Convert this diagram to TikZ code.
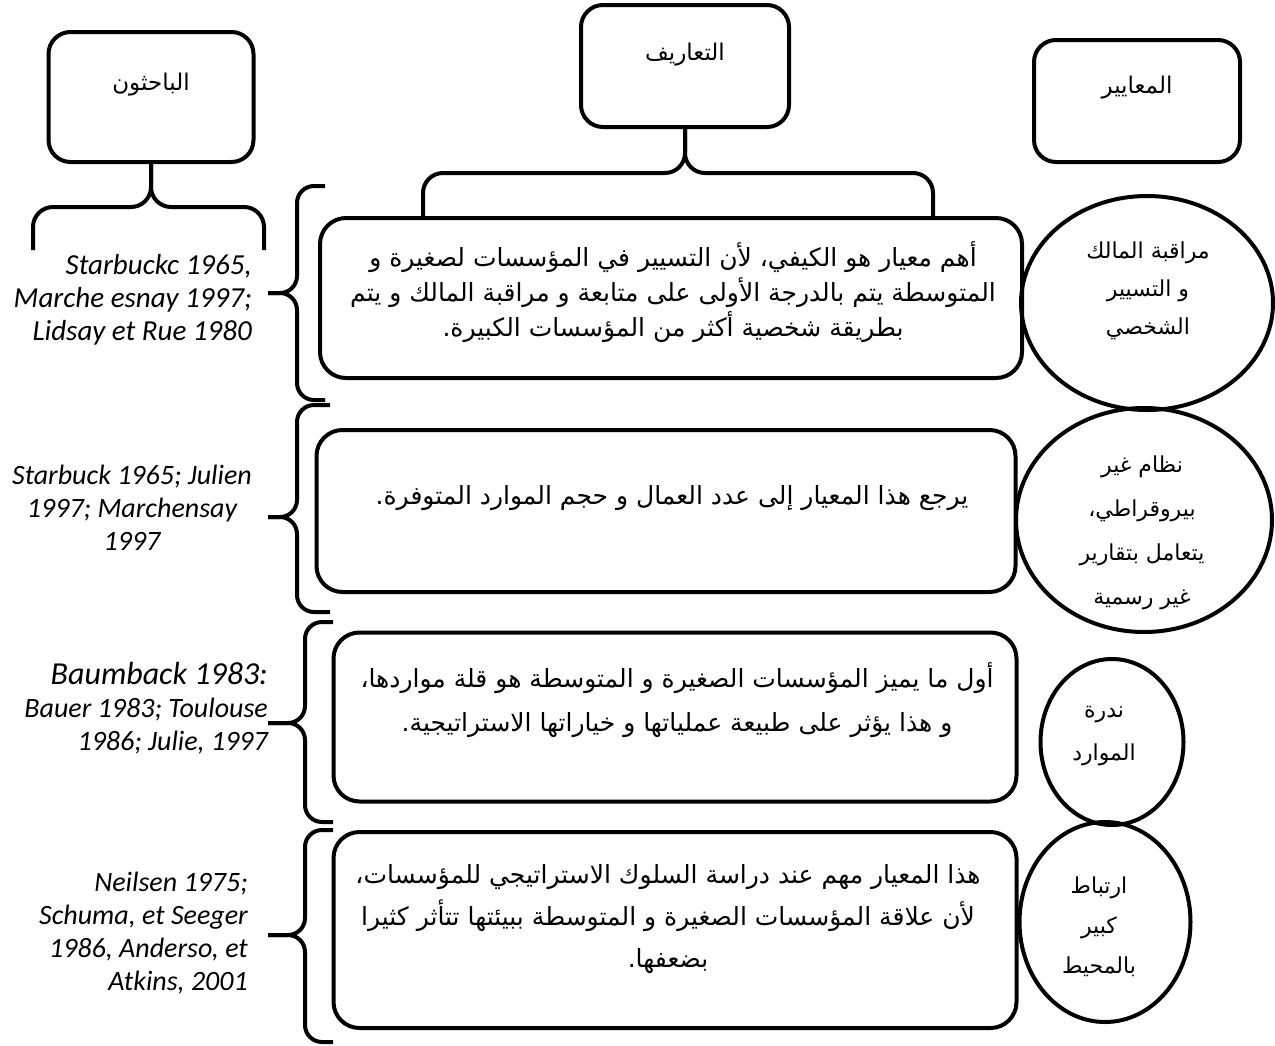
\documentclass[tikz,border=0pt]{standalone}
\usepackage{fontspec}
\usepackage{tikz}
\usetikzlibrary{shapes,positioning}
\TeXXeTstate=1
\newfontfamily\arabicfont[Script=Arabic]{DejaVu Sans}
\newfontfamily\reffont{Carlito}
\newcommand{\arline}[1]{\beginR #1\endR}
\tikzset{
    raw box/.style={rectangle, line width=4pt, draw, black, inner sep=0pt},
    head box/.style={raw box, rounded corners=22pt, font=\arabicfont\fontsize{23}{35}\selectfont},
    def box/.style={raw box, rounded corners=26pt},
    def text/.style={align=center, inner sep=0pt, font=\arabicfont\fontsize{25}{35}\selectfont},
    crit/.style={ellipse, line width=4pt, draw, inner sep=0pt},
    crit text/.style={align=center, inner sep=0pt, font=\arabicfont\fontsize{22}{42}\selectfont},
    ref text/.style={inner sep=0pt, font=\reffont\itshape\fontsize{28}{33}\selectfont},
    brace line/.style={line width=4pt, rounded corners=20pt},
    side brace/.style={line width=4pt, rounded corners=17pt}
}
\begin{document}
\begin{tikzpicture}[x=1pt, y=-1pt]
	\useasboundingbox (0,0) rectangle (1275,1045);
	% headers
	\node[head box, minimum width=205pt, text height=58pt, text depth=72pt] (hdrR) at (151,97) {\arline{الباحثون}};
	\node[head box, minimum width=208pt, text height=55pt, text depth=67pt] (hdrD) at (685,66) {\arline{التعاريف}};
	\node[head box, minimum width=206pt, text height=53pt, text depth=69pt] (hdrC) at (1137,101) {\arline{المعايير}};
	% definitions
	\node[def box, minimum width=702pt, minimum height=160pt] (def1) at (671,298) {};
	\node[def box, minimum width=699pt, minimum height=162pt] (def2) at (666,511) {};
	\node[def box, minimum width=683pt, minimum height=169pt] (def3) at (675,717) {};
	\node[def box, minimum width=683pt, minimum height=196pt] (def4) at (675,930) {};
	\node[def text] (txt1) at ([xshift=2pt, yshift=6pt]def1.center) {\arline{أهم معيار هو الكيفي، لأن التسيير في المؤسسات لصغيرة و}\\
		\arline{المتوسطة يتم بالدرجة الأولى على متابعة و مراقبة المالك و يتم}\\
		\arline{بطريقة شخصية أكثر من المؤسسات الكبيرة.}};
	\node[def text] (txt2) at ([xshift=6pt, yshift=13pt]def2.center) {\arline{يرجع هذا المعيار إلى عدد العمال و حجم الموارد المتوفرة.}};
	\node[def text, font=\arabicfont\fontsize{25}{44}\selectfont] (txt3) at ([xshift=2pt, yshift=17pt]def3.center) {\arline{أول ما يميز المؤسسات الصغيرة و المتوسطة هو قلة مواردها،}\\
		\arline{و هذا يؤثر على طبيعة عملياتها و خياراتها الاستراتيجية.}};
	\node[def text, font=\arabicfont\fontsize{25}{42}\selectfont] (txt4) at ([xshift=-7pt, yshift=11pt]def4.center) {\arline{هذا المعيار مهم عند دراسة السلوك الاستراتيجي للمؤسسات،}\\
		\arline{لأن علاقة المؤسسات الصغيرة و المتوسطة ببيئتها تتأثر كثيرا}\\
		\arline{بضعفها.}};
	% criteria
	\node[crit, minimum width=252pt, minimum height=214pt] (crit1) at (1147,303) {};
	\node[crit, minimum width=256pt, minimum height=224pt] (crit2) at (1144,520) {};
	\node[crit, minimum width=143pt, minimum height=166pt] (crit3) at (1112,742) {};
	\node[crit, minimum width=171pt, minimum height=200pt] (crit4) at (1105,922) {};
	\node[crit text, font=\arabicfont\fontsize{22}{38}\selectfont] (ctx1) at ([xshift=1pt, yshift=12pt]crit1.center) {\arline{مراقبة المالك}\\\arline{و التسيير}\\\arline{الشخصي}};
	\node[crit text, font=\arabicfont\fontsize{22}{44}\selectfont] (ctx2) at ([xshift=-2pt, yshift=-13pt]crit2.center) {\arline{نظام غير}\\\arline{بيروقراطي،}\\\arline{يتعامل بتقارير}\\\arline{غير رسمية}};
	\node[crit text, font=\arabicfont\fontsize{22}{43}\selectfont] (ctx3) at ([xshift=-8pt, yshift=6pt]crit3.center) {\arline{ندرة}\\\arline{الموارد}};
	\node[crit text, font=\arabicfont\fontsize{22}{40}\selectfont] (ctx4) at ([xshift=-6pt, yshift=-5pt]crit4.center) {\arline{ارتباط}\\\arline{كبير}\\\arline{بالمحيط}};
	% researchers
	\node[ref text, align=right, anchor=east, font=\reffont\itshape\fontsize{29}{33}\selectfont] (ref1) at (252,300) {Starbuckc 1965,\\Marche esnay 1997;\\Lidsay et Rue 1980};
	\node[ref text, align=center] (ref2) at (132,508) {Starbuck 1965; Julien\\1997; Marchensay\\1997};
	\node[ref text, align=right, anchor=east] (ref3) at (268,708) {{\fontsize{32}{36}\selectfont Baumback 1983:}\\Bauer 1983; Toulouse\\1986; Julie, 1997};
	\node[ref text, align=right, anchor=east] (ref4) at (248,933) {Neilsen 1975;\\Schuma, et Seeger\\1986, Anderso, et\\Atkins, 2001};
	% braces
	\draw[brace line] (33,250) |- (hdrR.south |- 0,207) -- (hdrR.south);
	\draw[brace line] (264,250) |- (hdrR.south |- 0,207) -- (hdrR.south);
	\draw[brace line] (def1.north -| 423,0) |- (hdrD.south |- 0,173) -- (hdrD.south);
	\draw[brace line] (def1.north -| 933,0) |- (hdrD.south |- 0,173) -- (hdrD.south);
	\coordinate (tip1) at (268,293);
	\coordinate (tip2) at (268,517);
	\coordinate (tip3) at (268,723);
	\coordinate (tip4) at (268,935);
	\draw[side brace] (325,186) -| (297,293) -- (tip1);
	\draw[side brace] (325,400) -| (297,293) -- (tip1);
	\draw[side brace] (330,405) -| (297,517) -- (tip2);
	\draw[side brace] (330,612) -| (297,517) -- (tip2);
	\draw[side brace] (333,622) -| (305,723) -- (tip3);
	\draw[side brace] (333,822) -| (305,723) -- (tip3);
	\draw[side brace] (333,830) -| (305,935) -- (tip4);
	\draw[side brace] (333,1042) -| (305,935) -- (tip4);
\end{tikzpicture}
\end{document}
